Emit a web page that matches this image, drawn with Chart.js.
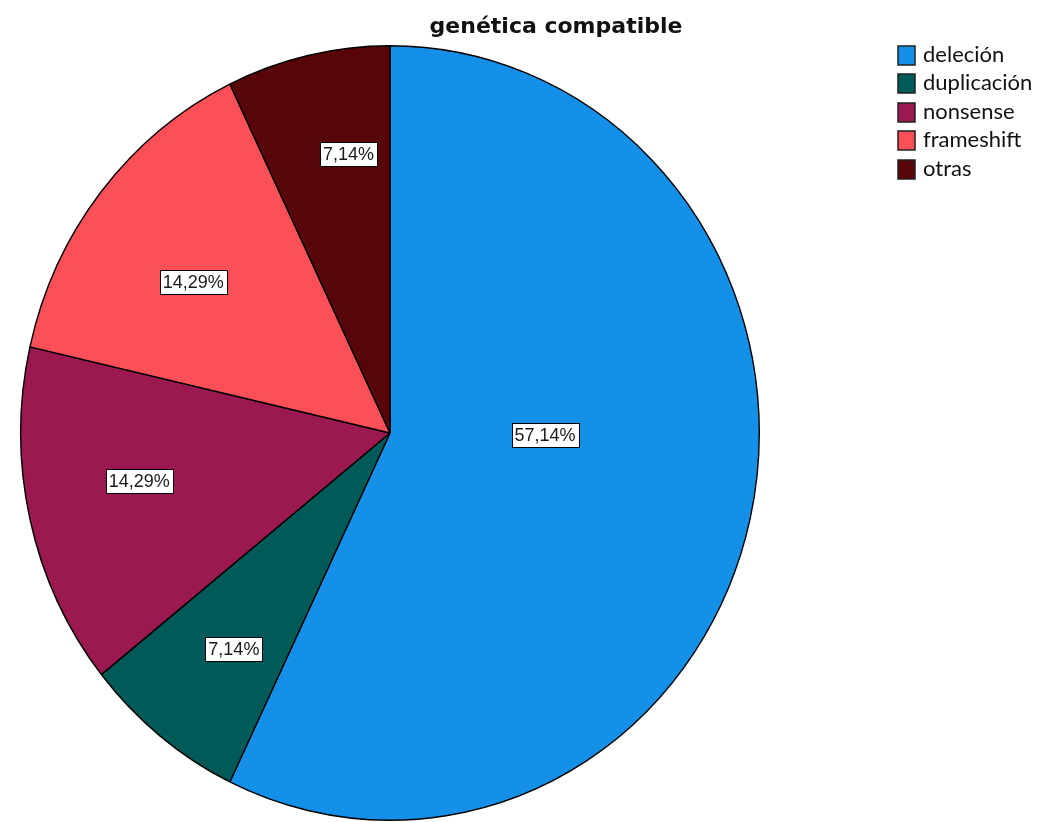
<!DOCTYPE html>
<html>
<head>
<meta charset="utf-8">
<script src="https://cdn.jsdelivr.net/npm/chart.js@4"></script>
<style>
html,body{margin:0;padding:0;background:#ffffff;}
#wrap{width:1061px;height:822px;position:relative;}
canvas{display:block;}
</style>
</head>
<body>
<div id="wrap"><canvas id="c" width="1061" height="822"></canvas></div>
<script>
// ---- data ----
const chartTitle = 'genética compatible';
const categories = ['deleción', 'duplicación', 'nonsense', 'frameshift', 'otras'];
const percentages = [57.14, 7.14, 14.29, 14.29, 7.14];
const valueLabels = percentages.map(v => v.toFixed(2).replace('.', ',') + '%');

// ---- styles ----
const sliceColors = ['#1490e8', '#005a57', '#9c1850', '#fc4f58', '#58050a'];
const Y_STRETCH = 388 / 370;

const ellipsePlugin = {
  id: 'ellipse',
  beforeDatasetsDraw(chart) {
    const a = chart.getDatasetMeta(0).data[0];
    const ctx = chart.ctx;
    ctx.save();
    ctx.translate(a.x, a.y);
    ctx.scale(1, Y_STRETCH);
    ctx.translate(-a.x, -a.y);
  },
  afterDatasetsDraw(chart) {
    chart.ctx.restore();
  }
};

// label placement tweaks (angle offset in degrees, fraction of radius)
const labelPlacement = [[-12, 0.42], [-1.4, 0.70], [2.5, 0.69], [-2.4, 0.66], [4, 0.73]];

const overlayPlugin = {
  id: 'overlay',
  afterDraw(chart) {
    const ctx = chart.ctx;
    const meta = chart.getDatasetMeta(0);
    // value labels
    ctx.save();
    ctx.font = '18px "Liberation Sans", Arial, sans-serif';
    ctx.textAlign = 'center';
    ctx.textBaseline = 'middle';
    meta.data.forEach((arc, i) => {
      const mid = (arc.startAngle + arc.endAngle) / 2 + labelPlacement[i][0] * Math.PI / 180;
      const r = arc.outerRadius * labelPlacement[i][1];
      const x = arc.x + Math.cos(mid) * r;
      const y = arc.y + Math.sin(mid) * r * Y_STRETCH;
      const txt = valueLabels[i];
      const w = ctx.measureText(txt).width + 6;
      const h = 24;
      ctx.fillStyle = '#ffffff';
      ctx.fillRect(Math.round(x - w / 2) + 0.5, Math.round(y - h / 2) + 0.5, Math.round(w), h);
      ctx.strokeStyle = '#000000';
      ctx.lineWidth = 1;
      ctx.strokeRect(Math.round(x - w / 2) + 0.5, Math.round(y - h / 2) + 0.5, Math.round(w), h);
      ctx.fillStyle = '#1a1a1a';
      ctx.fillText(txt, x, y + 1);
    });
    ctx.restore();

    // title
    ctx.save();
    ctx.font = 'bold 22px "DejaVu Sans", sans-serif';
    ctx.fillStyle = '#111111';
    ctx.textAlign = 'center';
    ctx.textBaseline = 'alphabetic';
    ctx.fillText(chartTitle, 556, 33);
    ctx.restore();

    // legend
    ctx.save();
    ctx.font = '22px Lato, "Open Sans", sans-serif';
    ctx.textAlign = 'left';
    ctx.textBaseline = 'middle';
    categories.forEach((c, i) => {
      const cy = 55 + i * 28.4;
      ctx.fillStyle = sliceColors[i];
      ctx.fillRect(898, Math.round(cy - 9), 17, 19);
      ctx.strokeStyle = '#222222';
      ctx.lineWidth = 1.5;
      ctx.strokeRect(898, Math.round(cy - 9), 17, 19);
      ctx.fillStyle = '#111111';
      ctx.fillText(c, 923, cy);
    });
    ctx.restore();
  }
};

new Chart(document.getElementById('c'), {
  type: 'pie',
  data: {
    labels: categories,
    datasets: [{
      data: percentages,
      backgroundColor: sliceColors,
      borderColor: '#000000',
      borderWidth: 1.4,
      clip: false
    }]
  },
  options: {
    responsive: false,
    animation: false,
    events: [],
    layout: { padding: { left: 20, right: 301, top: 63, bottom: 19 } },
    plugins: {
      legend: { display: false },
      title: { display: false },
      tooltip: { enabled: false }
    }
  },
  plugins: [ellipsePlugin, overlayPlugin]
});
</script>
</body>
</html>
